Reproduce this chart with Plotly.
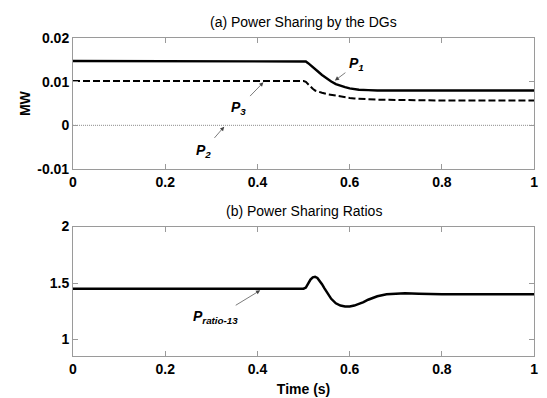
import plotly.graph_objects as go

# ---- data ----
t_a = [0, 0.5, 0.505, 0.51, 0.515, 0.52, 0.525, 0.53, 0.54, 0.55, 0.56, 0.57, 0.58,
       0.59, 0.60, 0.61, 0.62, 0.64, 0.66, 0.70, 0.75, 0.80, 0.90, 1.0]
p1 = [0.0148, 0.0148, 0.0147, 0.0143, 0.0139, 0.0134, 0.0129, 0.0125, 0.0116, 0.0108,
      0.0101, 0.0095, 0.0091, 0.0088, 0.0085, 0.0083, 0.0082, 0.0081, 0.0080, 0.0080,
      0.0080, 0.0080, 0.0080, 0.0080]
p3 = [0.0102, 0.0102, 0.0100, 0.0094, 0.0088, 0.0084, 0.0080, 0.0078, 0.0075, 0.0072,
      0.0070, 0.0068, 0.0066, 0.0065, 0.0063, 0.0062, 0.0061, 0.0060, 0.0059, 0.0058,
      0.0058, 0.0057, 0.0057, 0.0057]
t_p2 = [0, 1.0]
p2 = [0.0, 0.0]

t_b = [0, 0.5, 0.505, 0.51, 0.515, 0.52, 0.525, 0.53, 0.535, 0.54, 0.545, 0.55, 0.56,
       0.57, 0.58, 0.59, 0.60, 0.61, 0.62, 0.63, 0.64, 0.66, 0.68, 0.70, 0.72, 0.75,
       0.80, 0.90, 1.0]
ratio13 = [1.45, 1.45, 1.46, 1.50, 1.53, 1.55, 1.555, 1.545, 1.52, 1.49, 1.455, 1.42,
           1.36, 1.32, 1.30, 1.292, 1.292, 1.30, 1.313, 1.33, 1.352, 1.383, 1.40, 1.408,
           1.41, 1.405, 1.40, 1.40, 1.40]

x_ticks = [0, 0.2, 0.4, 0.6, 0.8, 1]
x_ticklabels = ["0", "0.2", "0.4", "0.6", "0.8", "1"]
ya_ticks = [-0.01, 0, 0.01, 0.02]
ya_ticklabels = ["-0.01", "0", "0.01", "0.02"]
yb_ticks = [1, 1.5, 2]
yb_ticklabels = ["1", "1.5", "2"]

title_a = "(a) Power Sharing by the DGs"
title_b = "(b) Power Sharing Ratios"

# label text, label centre (x, y), arrow tip (x, y), axes
curve_labels = [
    ("<b><i>P<sub>1</sub></i></b>", 0.6154, 0.0141, 0.568, 0.0103, "x", "y"),
    ("<b><i>P<sub>3</sub></i></b>", 0.360, 0.0041, 0.413, 0.0099, "x", "y"),
    ("<b><i>P<sub>2</sub></i></b>", 0.283, -0.0058, 0.328, -0.0003, "x", "y"),
    ("<b><i>P<sub>ratio-13</sub></i></b>", 0.310, 1.196, 0.406, 1.435, "x2", "y2"),
]

# ---- figure ----
W, H = 547, 398
FONT = "Arial, Liberation Sans, sans-serif"
AXC = "#9a9a9a"
FS = 14

fig = go.Figure()
fig.add_trace(go.Scatter(x=t_a, y=p1, mode="lines", line=dict(color="black", width=2.4),
                         xaxis="x", yaxis="y", showlegend=False))
fig.add_trace(go.Scatter(x=t_a, y=p3, mode="lines",
                         line=dict(color="black", width=2, dash="7px,3px"),
                         xaxis="x", yaxis="y", showlegend=False))
fig.add_trace(go.Scatter(x=t_p2, y=p2, mode="lines",
                         line=dict(color="#8a8a8a", width=1, dash="1px,1px"),
                         xaxis="x", yaxis="y", showlegend=False))
fig.add_trace(go.Scatter(x=t_b, y=ratio13, mode="lines", line=dict(color="black", width=2.5),
                         xaxis="x2", yaxis="y2", showlegend=False))

xl, xr = 70 / W, 538 / W
dom_a = [1 - 167.5 / H, 1 - 31.7 / H]
dom_b = [1 - 363 / H, 1 - 227.7 / H]

axis_common = dict(showline=True, linecolor=AXC, linewidth=1, mirror="ticks",
                   ticks="inside", ticklen=5, tickcolor=AXC, showgrid=False,
                   zeroline=False, tickfont=dict(family=FONT, size=FS, color="black"))

fig.update_layout(
    width=W, height=H,
    margin=dict(l=0, r=0, t=0, b=0),
    paper_bgcolor="white", plot_bgcolor="white",
    xaxis=dict(domain=[xl, xr], range=[0, 1], anchor="y",
               tickvals=x_ticks, ticktext=["<b>%s</b>" % s for s in x_ticklabels],
               **axis_common),
    yaxis=dict(domain=dom_a, range=[-0.01, 0.02], anchor="x",
               tickvals=ya_ticks, ticktext=["<b>%s</b>" % s for s in ya_ticklabels],
               title=dict(text="<b>MW</b>", font=dict(family=FONT, size=FS, color="black"),
                          standoff=3),
               **axis_common),
    xaxis2=dict(domain=[xl, xr], range=[0, 1], anchor="y2",
                tickvals=x_ticks, ticktext=["<b>%s</b>" % s for s in x_ticklabels],
                title=dict(text="<b>Time (s)</b>", font=dict(family=FONT, size=FS, color="black"),
                           standoff=7),
                **axis_common),
    yaxis2=dict(domain=dom_b, range=[0.85, 2], anchor="x2",
                tickvals=yb_ticks, ticktext=["<b>%s</b>" % s for s in yb_ticklabels],
                **axis_common),
)

ann = []
ann.append(dict(text=title_a, x=(xl + xr) / 2, y=1 - 15 / H, xref="paper", yref="paper",
                showarrow=False, xanchor="center", yanchor="middle",
                font=dict(family=FONT, size=FS, color="black")))
ann.append(dict(text=title_b, x=(xl + xr) / 2, y=1 - 211 / H, xref="paper", yref="paper",
                showarrow=False, xanchor="center", yanchor="middle",
                font=dict(family=FONT, size=FS, color="black")))

for txt, lx, ly, tx, ty, xr_, yr_ in curve_labels:
    ann.append(dict(text=txt, x=tx, y=ty, ax=lx, ay=ly, xref=xr_, yref=yr_,
                    axref=xr_, ayref=yr_, showarrow=True, arrowhead=2, arrowsize=1.2,
                    arrowwidth=0.7, arrowcolor="#444444", standoff=0, startstandoff=3,
                    font=dict(family=FONT, size=FS, color="black")))

fig.update_layout(annotations=ann)
fig.write_html("out.html")
